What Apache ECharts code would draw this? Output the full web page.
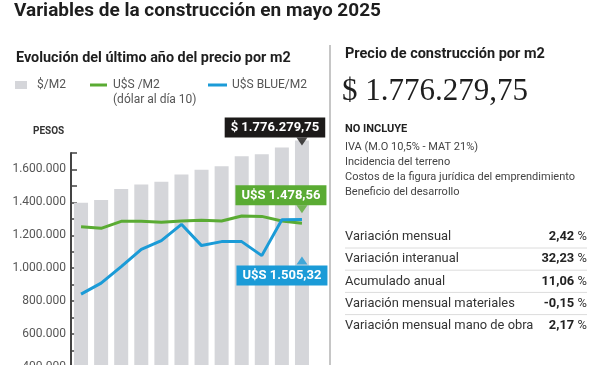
<!DOCTYPE html>
<html>
<head>
<meta charset="utf-8">
<script src="https://cdn.jsdelivr.net/npm/echarts@6/dist/echarts.min.js"></script>
<style>html,body{margin:0;padding:0;background:#fff;}#c{width:600px;height:365px;}</style>
</head>
<body>
<div id="c"></div>
<script>
const months = ['jun 24','jul 24','ago 24','sep 24','oct 24','nov 24','dic 24','ene 25','feb 25','mar 25','abr 25','may 25'];
const pesosM2 = [1398000, 1414000, 1481000, 1509000, 1525000, 1570000, 1598000, 1620000, 1681000, 1693000, 1733000, 1776279.75];
const usdOficialM2 = [1453, 1441, 1492, 1492, 1485, 1494, 1499, 1494, 1531, 1528, 1494, 1478.56];
const usdBlueM2 = [961, 1041, 1162, 1288, 1351, 1470, 1315, 1344, 1344, 1242, 1504, 1505.32];
const pesosTicks = [400000, 600000, 800000, 1000000, 1200000, 1400000, 1600000];
const noIncluye = ['IVA (M.O 10,5% - MAT 21%)', 'Incidencia del terreno', 'Costos de la figura jurídica del emprendimiento', 'Beneficio del desarrollo'];
const tableLabels = ['Variación mensual', 'Variación interanual', 'Acumulado anual', 'Variación mensual materiales', 'Variación mensual mano de obra'];
const tableValues = ['2,42', '32,23', '11,06', '-0,15', '2,17'];

const SANS = 'Roboto, "Liberation Sans", sans-serif';
const fmt = v => String(Math.round(v)).replace(/\B(?=(\d{3})+(?!\d))/g, '.');
const fmtDec = v => {
  const parts = v.toFixed(2).split('.');
  return parts[0].replace(/\B(?=(\d{3})+(?!\d))/g, '.') + ',' + parts[1];
};
const last = months.length - 1;

const chart = echarts.init(document.getElementById('c'), null, {renderer: 'canvas'});

const graphics = [
  {type: 'text', left: 14, top: 2, style: {text: 'Variables de la construcción en mayo 2025', font: 'bold 19px ' + SANS, fill: '#1e1e1e'}},
  {type: 'text', left: 16, top: 51, style: {text: 'Evolución del último año del precio por m2', font: 'bold 14.4px ' + SANS, fill: '#1e1e1e'}},
  {type: 'text', left: 113, top: 94, style: {text: '(dólar al día 10)', font: '12px ' + SANS, fill: '#555'}},
  {type: 'text', left: 33, top: 126, style: {text: 'PESOS', font: 'bold 10px ' + SANS, fill: '#333'}},
  {type: 'line', shape: {x1: 330, y1: 45, x2: 330, y2: 365}, style: {stroke: '#c6c6c6', lineWidth: 2}},
  {type: 'text', left: 345, top: 47, style: {text: 'Precio de construcción por m2', font: 'bold 14.5px ' + SANS, fill: '#1e1e1e'}},
  {type: 'text', left: 342, top: 76, style: {text: '$ ' + fmtDec(pesosM2[last]), font: '31px "Liberation Serif", "DejaVu Serif", serif', fill: '#1e1e1e'}},
  {type: 'text', left: 345, top: 124, style: {text: 'NO INCLUYE', font: 'bold 11px ' + SANS, fill: '#222'}}
];
noIncluye.forEach((t, i) => {
  graphics.push({type: 'text', left: 345, top: 142 + i * 15, style: {text: t, font: '11px ' + SANS, fill: '#444'}});
});
tableLabels.forEach((t, i) => {
  const yc = 237 + i * 22.2;
  graphics.push({type: 'text', x: 345, y: yc, style: {text: t, font: '12.9px ' + SANS, fill: '#333', textVerticalAlign: 'middle'}});
  graphics.push({type: 'text', x: 587, y: yc, style: {
    text: '{b|' + tableValues[i] + '} {p|%}', textAlign: 'right', textVerticalAlign: 'middle',
    rich: {b: {font: 'bold 12.9px ' + SANS, fill: '#222'}, p: {font: '12.9px ' + SANS, fill: '#333'}}
  }});
  if (i < tableLabels.length - 1) {
    graphics.push({type: 'line', shape: {x1: 345, y1: yc + 11, x2: 587, y2: yc + 11}, style: {stroke: '#dcdcdc', lineWidth: 1}});
  }
});

const pointer = (name, yIdx, val, color, rotate, offY) => ({
  name: name, type: 'scatter', yAxisIndex: yIdx, clip: false, z: 5, silent: true,
  symbol: 'triangle', symbolSize: [11, 8], symbolRotate: rotate, symbolOffset: [0, offY],
  itemStyle: {color: color}, data: [[last, val]]
});

const labelBox = (bg, pos, dist, dx) => ({
  show: true, position: pos, distance: dist, offset: [dx, 0],
  backgroundColor: bg, color: '#fff', fontFamily: SANS, fontWeight: 'bold', fontSize: 13,
  padding: [4, 6, 3, 6]
});

const legendText = pad => ({color: '#555', fontSize: 12, fontFamily: SANS, padding: [0, 0, 0, pad]});

chart.setOption({
  animation: false,
  graphic: graphics,
  legend: [
    {left: 15, top: 79, padding: 0, itemWidth: 12, itemHeight: 8, icon: 'rect', data: ['$/M2'], textStyle: legendText(5)},
    {left: 90, top: 79, padding: 0, itemWidth: 17, itemHeight: 3, icon: 'rect', data: ['U$S /M2'], textStyle: legendText(1)},
    {left: 208, top: 79, padding: 0, itemWidth: 19, itemHeight: 3, icon: 'rect', data: ['U$S BLUE/M2'], textStyle: legendText(0)}
  ],
  grid: {left: 71, top: 153, right: 288, bottom: -2, containLabel: false, outerBoundsMode: 'none'},
  xAxis: {type: 'category', data: months, boundaryGap: true,
    axisLine: {show: false}, axisTick: {show: false}, axisLabel: {show: false}},
  yAxis: [
    {type: 'value', min: 400000, max: 1700000, interval: 100000,
     axisLine: {show: true, lineStyle: {color: '#444', width: 2}},
     axisTick: {show: true, inside: true, length: 6, lineStyle: {color: '#444', width: 1.5}},
     splitLine: {show: false},
     axisLabel: {color: '#555', fontSize: 12, fontFamily: SANS, margin: 5,
       formatter: v => pesosTicks.indexOf(v) >= 0 ? fmt(v) : ''}},
    {type: 'value', min: 430, max: 1990, show: false, splitLine: {show: false}}
  ],
  series: [
    {name: '$/M2', type: 'bar', barWidth: 14, clip: false, z: 1,
     itemStyle: {color: '#d5d6da'},
     data: pesosM2.map((v, i) => i === last ? {value: v, label: labelBox('#1c1a19', 'top', 3, -27)} : v),
     label: {formatter: p => '$ ' + fmtDec(p.value)}},
    {name: 'U$S /M2', type: 'line', yAxisIndex: 1, z: 3,
     symbol: 'circle', symbolSize: 0, showSymbol: true, showAllSymbol: true,
     lineStyle: {color: '#5aab33', width: 3}, itemStyle: {color: '#5aab33'},
     data: usdOficialM2.map((v, i) => i === last ? {value: v, label: labelBox('#5aab33', 'top', 18, -21)} : v),
     label: {formatter: p => 'U$S ' + fmtDec(p.value)}},
    {name: 'U$S BLUE/M2', type: 'line', yAxisIndex: 1, z: 3,
     symbol: 'circle', symbolSize: 0, showSymbol: true, showAllSymbol: true,
     lineStyle: {color: '#1b9bd7', width: 3}, itemStyle: {color: '#1b9bd7'},
     data: usdBlueM2.map((v, i) => i === last ? {value: v, label: labelBox('#1b9bd7', 'bottom', 46, -20)} : v),
     label: {formatter: p => 'U$S ' + fmtDec(p.value)}},
    pointer('p1', 0, pesosM2[last], '#1c1a19', 180, 1),
    pointer('p2', 1, usdOficialM2[last], '#5aab33', 180, -14),
    pointer('p3', 1, usdBlueM2[last], '#1b9bd7', 0, 41)
  ]
});
</script>
</body>
</html>
